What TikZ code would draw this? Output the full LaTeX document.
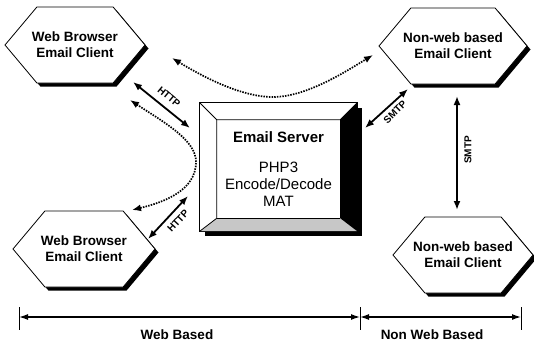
\documentclass[tikz,border=0pt]{standalone}
\usepackage{fontspec}
\setmainfont{Liberation Sans}
\usetikzlibrary{shapes.symbols,shadows,arrows.meta,calc}
\pgfdeclarelayer{edgelayer}
\pgfdeclarelayer{nodelayer}
\pgfsetlayers{edgelayer,nodelayer,main}
\tikzstyle{client}=[signal, signal to=west and east, signal pointer angle=100, draw=black, fill=white, line width=0.8pt, minimum width=140pt, minimum height=76pt, inner ysep=0pt, inner xsep=-8pt, align=center, font=\fontsize{13.5}{16}\selectfont\bfseries, drop shadow={shadow xshift=3.5pt, shadow yshift=-3.5pt, fill=black, opacity=1}]
\tikzstyle{server}=[rectangle, minimum width=123pt, minimum height=98pt, inner sep=0pt, align=center, font=\fontsize{15}{17}\selectfont]
\tikzstyle{link}=[draw=black, line width=1.8pt, {Latex[length=9pt,width=7pt]}-{Latex[length=9pt,width=7pt]}]
\tikzstyle{weblink}=[draw=black, line width=1.7pt, dash pattern=on 1.5pt off 1.2pt, {Latex[length=9pt,width=7pt]}-{Latex[length=9pt,width=7pt]}]
\tikzstyle{proto}=[inner sep=0pt, font=\fontsize{10}{12}\selectfont\bfseries]
\tikzstyle{span}=[draw=black, line width=1.3pt, {Latex[length=9pt,width=6pt]}-{Latex[length=9pt,width=6pt]}]
\tikzstyle{tick}=[draw=black, line width=0.8pt]
\tikzstyle{part}=[inner sep=0pt, font=\fontsize{13.5}{16}\selectfont\bfseries]
\begin{document}
\begin{tikzpicture}[x=1pt, y=-1pt]
				\useasboundingbox (0,0) rectangle (534,345);
				\begin{pgfonlayer}{nodelayer}
					\node [style=client] (1) at (75, 45) {Web Browser\\Email Client};
					\node [style=client, minimum width=148pt, inner xsep=-10pt] (2) at (453, 46) {Non-web based\\Email Client};
					\node [style=client, minimum width=142pt] (3) at (84, 249) {Web Browser\\Email Client};
					\node [style=client, inner xsep=-12pt] (4) at (463, 255) {Non-web based\\Email Client};
					\node [style=server] (5) at (278.5, 169) {\textbf{Email Server}\\[13pt]PHP3\\Encode/Decode\\MAT};
					\node [style=part] (6) at (177, 335) {Web Based};
					\node [style=part] (7) at (432, 335) {Non Web Based};
					\node [style=proto, rotate=-40] (8) at (169, 97) {HTTP};
					\node [style=proto, rotate=47] (9) at (178, 221) {HTTP};
					\node [style=proto, rotate=45] (10) at (395, 112) {SMTP};
					\node [style=proto, rotate=90] (11) at (468, 150) {SMTP};
				\end{pgfonlayer}
				\coordinate (12) at ($(5.north west)+(-17,-17)$);
				\coordinate (13) at ($(5.north east)+(17,-17)$);
				\coordinate (14) at ($(5.south east)+(17,13)$);
				\coordinate (15) at ($(5.south west)+(-17,13)$);
				\coordinate (16) at (133, 82);
				\coordinate (17) at (190, 128);
				\coordinate (18) at (148, 239);
				\coordinate (19) at (188, 196);
				\coordinate (20) at (365, 128);
				\coordinate (21) at (408, 89);
				\coordinate (22) at (457, 96);
				\coordinate (23) at (457, 210);
				\coordinate (24) at (172, 58);
				\coordinate (25) at (373, 55);
				\coordinate (26) at (130, 100);
				\coordinate (27) at (132, 210);
				\coordinate (28) at (19, 317);
				\coordinate (29) at (360, 317);
				\coordinate (30) at (521, 317);
				\begin{pgfonlayer}{edgelayer}
					\fill [black] ($(12)+(5,5)$) rectangle ($(14)+(5,5)$);
					\filldraw [fill=white, line width=0.8pt] (12) rectangle (14);
					\fill [black!22] (15) -- (5.south west) -- (5.south east) -- (14) -- cycle;
					\fill [black] (13) -- (5.north east) -- (5.south east) -- (14) -- cycle;
					\draw [line width=0.8pt] (12) -- (5.north west) -- (5.north east) -- (13);
					\draw [line width=0.8pt] (5.north west) -- (5.south west) -- (15);
					\draw [line width=0.8pt] (5.south west) -- (5.south east);
					\draw [style=link] (16) to (17);
					\draw [style=link] (18) to (19);
					\draw [style=link] (20) to (21);
					\draw [style=link] (22) to (23);
					\draw [style=weblink] (24) .. controls (200, 75) and (240, 97) .. (273, 97) .. controls (306, 97) and (345, 72) .. (25);
					\draw [style=weblink] (26) .. controls (165, 123) and (196, 140) .. (196, 162) .. controls (196, 190) and (165, 202) .. (27);
					\draw [style=span] (28) to (29);
					\draw [style=span] (29) to (30);
					\draw [style=tick] ($(28)+(0,-10)$) to ($(28)+(0,13)$);
					\draw [style=tick] ($(29)+(0,-10)$) to ($(29)+(0,13)$);
					\draw [style=tick] ($(30)+(0,-10)$) to ($(30)+(0,13)$);
				\end{pgfonlayer}
			\end{tikzpicture}
\end{document}
